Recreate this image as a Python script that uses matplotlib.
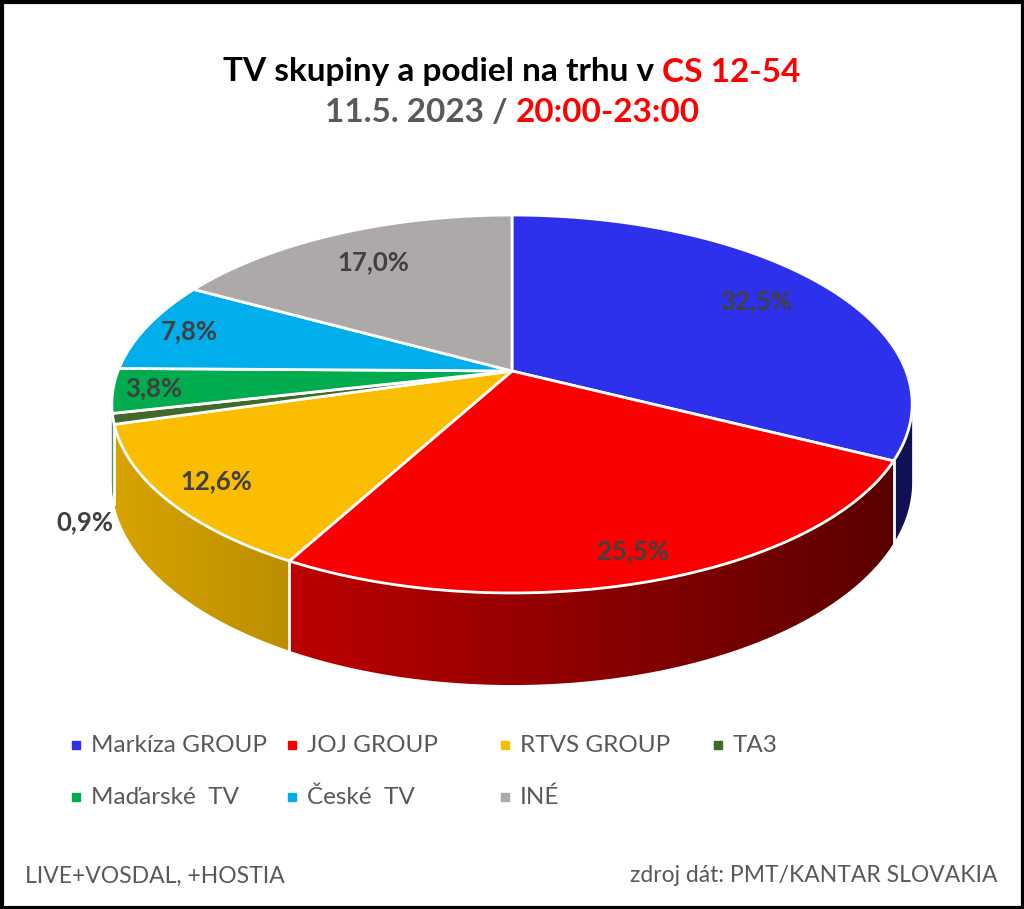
import numpy as np
import matplotlib
matplotlib.use("Agg")
import matplotlib.pyplot as plt
from matplotlib.patches import Polygon, Rectangle
from matplotlib.colors import to_rgb

plt.rcParams['font.family'] = ['Lato', 'DejaVu Sans']

# data
groups = ['Markíza GROUP', 'JOJ GROUP', 'RTVS GROUP', 'TA3',
          'Maďarské  TV', 'České  TV', 'INÉ']
shares = [32.5, 25.5, 12.6, 0.9, 3.8, 7.8, 17.0]
labels = ['32,5%', '25,5%', '12,6%', '0,9%', '3,8%', '7,8%', '17,0%']
colors = ['#2E31EC', '#FA0000', '#FABD00', '#3F6A2A',
          '#00AC4E', '#00AEEB', '#ADA9A9']

# 3d look (pixel space)
CX, CY = 512, 371
A, B, C = 394, 183.2, 0.1746
H = 76
label_r = [0.78, 0.88, 0.87, 1.0, 0.9, 0.88, 0.77]


def proj(phi, r=1.0):
    u = r * np.sin(phi)
    v = -r * np.cos(phi)
    w = 1 - C * v
    return CX + A * u / w, CY + B * v / w, w


fig = plt.figure(figsize=(10.24, 9.09), dpi=100)
ax = fig.add_axes([0, 0, 1, 1])
ax.set_xlim(0, 1024)
ax.set_ylim(909, 0)
ax.axis('off')

fracs = np.array(shares) / sum(shares)
bounds = np.concatenate([[0], np.cumsum(fracs)]) * 2 * np.pi

# side walls: only the front part is visible
front_lo = np.arccos(-C)
front_hi = 2 * np.pi - front_lo
xs = np.arange(0, 1024)
k = np.clip(0.86 - 0.00064 * (xs - 120), 0.3, 1)
for i in range(len(shares)):
    a = max(bounds[i], front_lo)
    b = min(bounds[i + 1], front_hi)
    if b <= a:
        continue
    ph = np.linspace(a, b, 200)
    x, y, w = proj(ph)
    pts = list(zip(x, y)) + list(zip(x[::-1], (y + H / w)[::-1]))
    poly = Polygon(pts, closed=True, facecolor='none', edgecolor='none')
    ax.add_patch(poly)
    grad = np.array(to_rgb(colors[i]))[None, None, :] * k[None, :, None]
    im = ax.imshow(grad, extent=(0, 1024, 909, 0), aspect='auto',
                   interpolation='bilinear', zorder=2)
    im.set_clip_path(poly)

# white seams on visible side
for phi in bounds[:-1]:
    if front_lo + 0.1 < phi < front_hi - 0.1:
        x, y, w = proj(phi)
        ax.plot([x, x], [y, y + H / w], color='white', lw=2, zorder=3)

# top faces
for i in range(len(shares)):
    ph = np.linspace(bounds[i], bounds[i + 1], 200)
    x, y, _ = proj(ph)
    pts = [(CX, CY)] + list(zip(x, y))
    ax.add_patch(Polygon(pts, closed=True, facecolor=colors[i],
                         edgecolor='white', lw=2, joinstyle='round',
                         zorder=4))

# data labels
for i, lab in enumerate(labels):
    mid = (bounds[i] + bounds[i + 1]) / 2
    x, y, w = proj(mid, label_r[i])
    if label_r[i] >= 1.0:
        x, y = x - 28, y + 103
    ax.text(x, y, lab, ha='center', va='center', fontsize=18.5,
            fontweight='bold', color='#404040', zorder=6)


def multi_text(y, parts, size, weight='bold', x_center=512):
    r = fig.canvas.get_renderer()
    objs = []
    for s, c in parts:
        t = ax.text(0, y, s, fontsize=size, fontweight=weight, color=c,
                    va='center', ha='left')
        objs.append(t)
    widths = [t.get_window_extent(renderer=r).width for t in objs]
    x = x_center - sum(widths) / 2
    for t, wd in zip(objs, widths):
        t.set_x(x)
        x += wd


multi_text(72, [('TV skupiny a podiel na trhu v ', 'black'),
                ('CS 12-54', '#FF0000')], 24)
multi_text(112, [('11.5. 2023 / ', '#595959'),
                 ('20:00-23:00', '#FF0000')], 24)

# legend
leg_x = [76, 292, 505, 718]
leg_y = [745, 797]
for i, g in enumerate(groups):
    row, col = divmod(i, 4)
    x, y = leg_x[col], leg_y[row]
    ax.add_patch(Rectangle((x - 4, y - 4), 8, 8, color=colors[i], zorder=5))
    ax.text(x + 15, y, g, fontsize=17.5, color='#595959', va='center',
            ha='left')

ax.text(25, 876, 'LIVE+VOSDAL, +HOSTIA', fontsize=16.5, color='#595959',
        va='center', ha='left')
ax.text(997, 876, 'zdroj dát: PMT/KANTAR SLOVAKIA', fontsize=16.5,
        color='#595959', va='center', ha='right')

ax.add_patch(Rectangle((1.5, 1.5), 1021, 906, fill=False, edgecolor='black',
                       lw=3, zorder=10))

fig.savefig('out.png', dpi=100)
